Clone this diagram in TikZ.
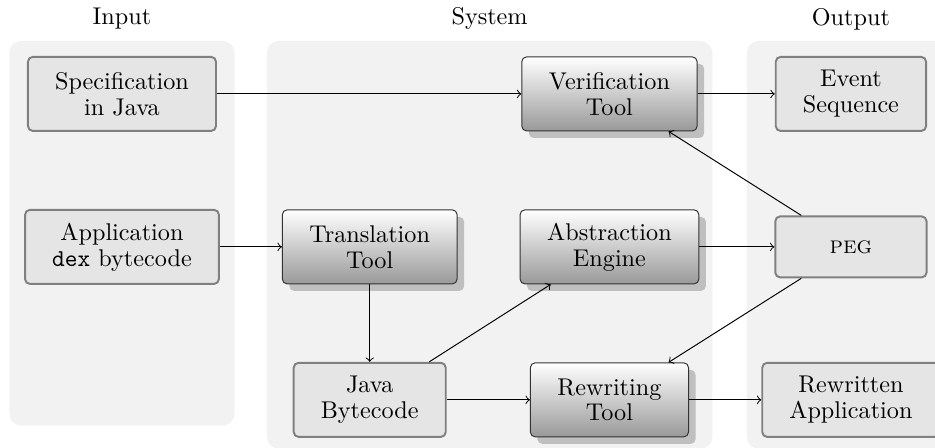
\documentclass[tikz,border=0pt]{standalone}
\usepackage{amsmath}
\usepackage{tikz}
\usetikzlibrary{matrix, arrows, calc, shadows, backgrounds}

\begin{document}
\begin{tikzpicture}[
  box/.style = {align=center, inner xsep=11.2pt, minimum height=30.6pt, rounded corners=2pt, font=\fontsize{10}{10.7}\selectfont},
  plain/.style = {box, draw=black!50, thick, fill=black!10},
  tool/.style = {box, draw=black!80, top color=white, bottom color=black!40, drop shadow={shadow xshift=2.9pt, shadow yshift=-2.9pt, fill=black!25, opacity=1}},
  panel/.style = {fill=black!5, rounded corners=5pt}]
\matrix (m) [column sep = 25.6pt, row sep = 31.8pt]{
\node[plain](spec){Specification\\in Java}; & & \node[tool](verif){Verification\\Tool}; & \node[plain](seq){Event\\Sequence}; \\
\node[plain](app){Application\\\texttt{dex} bytecode}; & \node[tool](trans){Translation\\Tool}; & \node[tool](abs){Abstraction\\Engine}; & \node[plain, minimum width=62.5pt, minimum height=25.2pt](peg){\textsc{peg}}; \\
& \node[plain](java){Java\\Bytecode}; & \node[tool](rew){Rewriting\\Tool}; & \node[plain](out){Rewritten\\Application}; \\
};
\draw [->](spec) -- (verif);
\draw [->](verif) -- (seq);
\draw [->](peg) -- (verif);
\draw [->](app) -- (trans);
\draw [->](abs) -- (peg);
\draw [->](trans) -- (java);
\draw [->](java) -- (abs);
\draw [->](peg) -- (rew);
\draw [->](java) -- (rew);
\draw [->](rew) -- (out);
\coordinate (sysmid) at ($(trans |- spec)!.5!(verif)$);
\begin{scope}[on background layer]
\fill[panel] ($(spec)+(-46.5pt,21.9pt)$) rectangle ($(app |- java)+(46.5pt,-10.7pt)$);
\fill[panel] ($(sysmid)+(-92pt,21.9pt)$) rectangle ($(sysmid |- java)+(92pt,-20.3pt)$);
\fill[panel] ($(seq)+(-43pt,21.9pt)$) rectangle ($(out)+(43pt,-20.3pt)$);
\end{scope}
\node (tin) at ($(spec)+(0,31pt)$) {Input};
\node (tsys) at ($(sysmid)+(0,31pt)$) {System};
\node (tout) at ($(seq)+(0,31pt)$) {Output};
\pgfresetboundingbox
\useasboundingbox ($(spec)+(-50.4pt,38.8pt)$) rectangle ($(spec)+(335.9pt,-145.9pt)$);
\end{tikzpicture}
\end{document}
